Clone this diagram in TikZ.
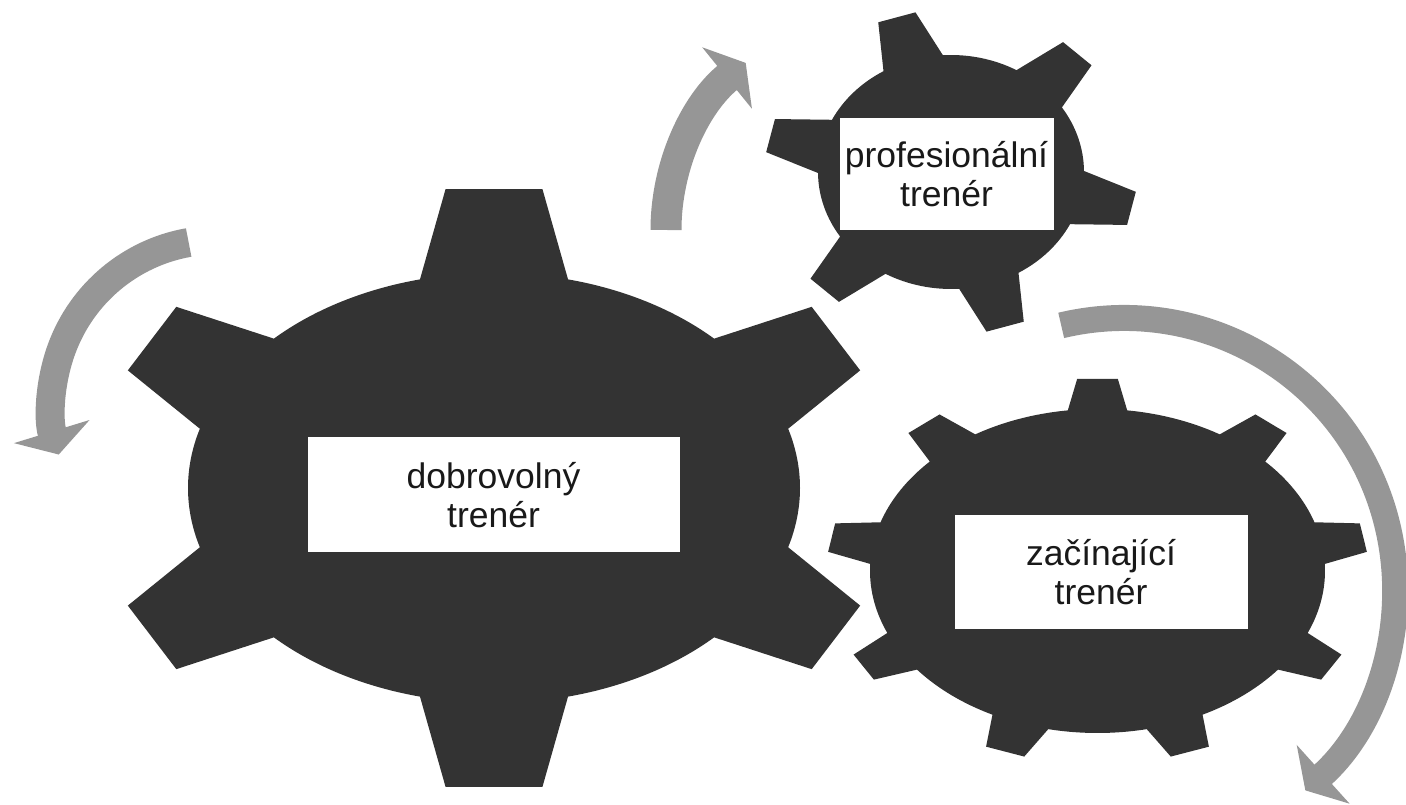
\documentclass[tikz,border=0pt]{standalone}
\usepackage{fontspec}
\setmainfont{Liberation Sans}
\usepackage{tikz}
\usetikzlibrary{arrows.meta, positioning}

\definecolor{gearcol}{HTML}{333333}
\definecolor{turncol}{HTML}{969696}

% gear: first tooth angle, teeth, tip x radius, tip y radius, half tip angle, half root angle
\newcommand{\gearshape}[6]{%
	\fill[gearcol] ({#1-#6}:1pt)
	\foreach \i in {1,...,#2}{
		-- ({#3*cos(#1+(\i-1)*360/#2-#5)}, {#4*sin(#1+(\i-1)*360/#2-#5)})
		-- ({#3*cos(#1+(\i-1)*360/#2+#5)}, {#4*sin(#1+(\i-1)*360/#2+#5)})
		-- ({#1+(\i-1)*360/#2+#6}:1pt)
		arc[start angle={#1+(\i-1)*360/#2+#6}, end angle={#1+\i*360/#2-#6}, radius=1pt]
	} -- cycle;
}

\begin{document}
\begin{tikzpicture}[x=1pt, y=1pt,
	label/.style={draw=black!80, line width=1pt, fill=white, inner sep=0pt,
		align=center, text=black!90, font=\fontsize{35.5pt}{39pt}\selectfont},
	turn/.style={draw=turncol, -{Triangle[width=78pt, length=24pt]}}]
	
	\useasboundingbox (0,0) rectangle (1406,805);
	
	% gears
	\begin{scope}[shift={(494,317)}, xscale=306, yscale=215]
		\gearshape{30}{6}{1.30}{1.40}{7}{14}
	\end{scope}
	\begin{scope}[shift={(951,633)}, xscale=133, yscale=117]
		\gearshape{-13}{6}{1.40}{1.39}{6}{13.5}
	\end{scope}
	\begin{scope}[shift={(1097.5,234)}, xscale=227.5, yscale=162]
		\gearshape{90}{9}{1.19}{1.19}{4.3}{7.5}
	\end{scope}
	
	% texts
	\node[label, minimum width=373pt, minimum height=116pt] 	(dobrovolny) 	at (493.5,310) 	{dobrovolný\\trenér};
	\node[label, minimum width=215pt, minimum height=113pt] 	(profesionalni) at (946.5,630.5) {profesionální\\trenér};
	\node[label, minimum width=294pt, minimum height=115pt] 	(zacinajici) 	at (1101,232.5) {začínající\\trenér};
	
	% turning arrows
	\coordinate (turnA) at (217.5,399);
	\coordinate (turnB) at (881,575);
	\coordinate (turnC) at (1124,216);
	\draw[turn, line width=29pt] (turnA) ++(100:166pt) arc[start angle=100, end angle=197, radius=166pt];
	\draw[turn, line width=31pt] (turnB) ++(180:215pt) arc[start angle=180, end angle=129, radius=215pt];
	\draw[turn, line width=26pt] (turnC) ++(103.4:271pt) arc[start angle=103.4, end angle=-48, radius=271pt];
\end{tikzpicture}
\end{document}
